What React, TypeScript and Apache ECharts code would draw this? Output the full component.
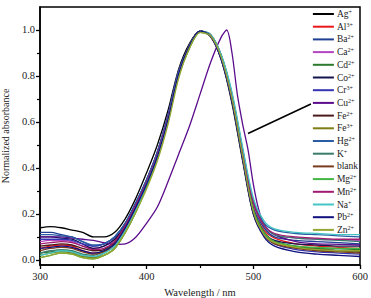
import React, { useEffect, useRef } from "react";
import * as echarts from "echarts";

const wavelengths = [300, 310, 320, 330, 340, 350, 360, 370, 380, 390, 400, 410, 420, 430, 440, 450, 460, 470, 480, 490, 500, 510, 520, 540, 560, 580, 600];
const cuWavelengths = [300, 310, 320, 330, 340, 350, 360, 370, 380, 390, 400, 410, 420, 430, 440, 450, 460, 470, 475, 480, 485, 490, 495, 500, 505, 510, 520, 540, 560, 580, 600];

const seriesNames = ["Ag+", "Al3+", "Ba2+", "Ca2+", "Cd2+", "Co2+", "Cr3+", "Cu2+", "Fe2+", "Fe3+", "Hg2+", "K+", "blank", "Mg2+", "Mn2+", "Na+", "Pb2+", "Zn2+"];

const seriesColors = ["#000000", "#e8171b", "#1f3f94", "#b445c0", "#2c7a2c", "#14144e", "#3434b4", "#5a0c8c", "#4c1a1a", "#7e7e14", "#2a5ca4", "#3a7c6c", "#7a3c1c", "#44b444", "#a01a72", "#44c4c4", "#10107e", "#96a632"];

const agValues = [0.14, 0.145, 0.14, 0.13, 0.12, 0.1, 0.1, 0.12, 0.18, 0.27, 0.38, 0.5, 0.65, 0.83, 0.94, 0.995, 0.97, 0.87, 0.68, 0.43, 0.2, 0.11, 0.08, 0.055, 0.045, 0.04, 0.035];
const alValues = [0.05, 0.06, 0.065, 0.06, 0.04, 0.03, 0.04, 0.08, 0.15, 0.24, 0.34, 0.46, 0.62, 0.82, 0.93, 0.995, 0.975, 0.88, 0.7, 0.45, 0.22, 0.13, 0.095, 0.07, 0.06, 0.055, 0.05];
const baValues = [0.12, 0.12, 0.11, 0.1, 0.08, 0.06, 0.07, 0.1, 0.16, 0.25, 0.35, 0.47, 0.63, 0.82, 0.93, 0.995, 0.975, 0.88, 0.71, 0.46, 0.23, 0.14, 0.1, 0.085, 0.08, 0.075, 0.07];
const caValues = [0.08, 0.085, 0.085, 0.08, 0.06, 0.05, 0.06, 0.09, 0.15, 0.24, 0.34, 0.46, 0.62, 0.81, 0.93, 0.995, 0.975, 0.88, 0.71, 0.46, 0.24, 0.15, 0.11, 0.095, 0.09, 0.088, 0.085];
const cdValues = [0.03, 0.035, 0.04, 0.035, 0.02, 0.01, 0.03, 0.06, 0.13, 0.22, 0.33, 0.45, 0.61, 0.81, 0.93, 0.995, 0.975, 0.88, 0.7, 0.45, 0.22, 0.12, 0.08, 0.06, 0.05, 0.048, 0.045];
const coValues = [0.1, 0.1, 0.095, 0.09, 0.07, 0.05, 0.06, 0.09, 0.15, 0.24, 0.34, 0.46, 0.62, 0.82, 0.93, 0.995, 0.975, 0.88, 0.7, 0.45, 0.22, 0.12, 0.085, 0.07, 0.065, 0.06, 0.06];
const crValues = [0.09, 0.09, 0.09, 0.085, 0.07, 0.06, 0.07, 0.1, 0.16, 0.25, 0.35, 0.47, 0.63, 0.82, 0.93, 0.995, 0.975, 0.87, 0.69, 0.44, 0.21, 0.11, 0.07, 0.045, 0.035, 0.03, 0.025];
const cuValues = [0.1, 0.1, 0.1, 0.095, 0.09, 0.085, 0.075, 0.068, 0.07, 0.1, 0.16, 0.23, 0.34, 0.46, 0.58, 0.72, 0.86, 0.97, 1.0, 0.9, 0.72, 0.59, 0.48, 0.33, 0.22, 0.155, 0.11, 0.08, 0.07, 0.068, 0.065];
const fe2Values = [0.06, 0.065, 0.07, 0.065, 0.05, 0.04, 0.045, 0.08, 0.15, 0.24, 0.34, 0.46, 0.62, 0.81, 0.93, 0.995, 0.975, 0.88, 0.7, 0.45, 0.22, 0.12, 0.08, 0.055, 0.045, 0.04, 0.035];
const fe3Values = [0.02, 0.03, 0.035, 0.03, 0.015, 0.01, 0.02, 0.05, 0.12, 0.21, 0.32, 0.44, 0.6, 0.8, 0.92, 0.99, 0.975, 0.88, 0.7, 0.45, 0.21, 0.11, 0.075, 0.055, 0.045, 0.04, 0.04];
const hgValues = [0.11, 0.11, 0.105, 0.1, 0.08, 0.065, 0.07, 0.1, 0.16, 0.25, 0.35, 0.47, 0.63, 0.82, 0.93, 0.995, 0.98, 0.89, 0.72, 0.48, 0.26, 0.16, 0.13, 0.115, 0.11, 0.105, 0.1];
const kValues = [0.03, 0.04, 0.045, 0.04, 0.025, 0.02, 0.04, 0.07, 0.14, 0.23, 0.33, 0.45, 0.61, 0.81, 0.93, 0.995, 0.98, 0.89, 0.72, 0.48, 0.25, 0.15, 0.11, 0.095, 0.09, 0.085, 0.08];
const blankValues = [0.04, 0.05, 0.055, 0.05, 0.035, 0.025, 0.035, 0.07, 0.14, 0.23, 0.33, 0.45, 0.61, 0.81, 0.93, 0.995, 0.975, 0.88, 0.7, 0.45, 0.21, 0.11, 0.07, 0.05, 0.04, 0.035, 0.03];
const mgValues = [0.01, 0.02, 0.03, 0.025, 0.01, 0.005, 0.02, 0.05, 0.12, 0.21, 0.32, 0.44, 0.6, 0.8, 0.92, 0.99, 0.975, 0.88, 0.7, 0.45, 0.22, 0.12, 0.08, 0.06, 0.055, 0.05, 0.05];
const mnValues = [0.07, 0.075, 0.08, 0.075, 0.06, 0.045, 0.05, 0.08, 0.15, 0.24, 0.34, 0.46, 0.62, 0.81, 0.93, 0.995, 0.975, 0.88, 0.71, 0.47, 0.25, 0.15, 0.115, 0.1, 0.095, 0.09, 0.09];
const naValues = [0.02, 0.03, 0.04, 0.035, 0.02, 0.015, 0.03, 0.06, 0.13, 0.22, 0.33, 0.45, 0.61, 0.81, 0.93, 0.995, 0.98, 0.89, 0.73, 0.49, 0.27, 0.17, 0.135, 0.12, 0.115, 0.11, 0.11];
const pbValues = [0.05, 0.055, 0.06, 0.055, 0.04, 0.03, 0.04, 0.07, 0.14, 0.23, 0.33, 0.45, 0.61, 0.81, 0.93, 0.995, 0.975, 0.87, 0.69, 0.44, 0.2, 0.1, 0.06, 0.035, 0.025, 0.02, 0.015];
const znValues = [0.01, 0.02, 0.03, 0.025, 0.01, 0.005, 0.02, 0.05, 0.12, 0.21, 0.31, 0.43, 0.59, 0.79, 0.92, 0.99, 0.975, 0.88, 0.7, 0.45, 0.21, 0.11, 0.075, 0.055, 0.045, 0.04, 0.04];

const seriesValues = [agValues, alValues, baValues, caValues, cdValues, coValues, crValues, cuValues, fe2Values, fe3Values, hgValues, kValues, blankValues, mgValues, mnValues, naValues, pbValues, znValues];

const yTickLabels = [0, 0.2, 0.4, 0.6, 0.8, 1.0];
const yMinorTicks = [0.1, 0.3, 0.5, 0.7, 0.9];
const arrowStart = [495, 0.55];
const arrowEnd = [554, 0.678];

const FONT = "'Liberation Serif', 'DejaVu Serif', serif";

function legendLabel(name: string): string {
  const m = name.match(/^([A-Z][a-z]?)(\d?[+-])$/);
  if (!m) return "{n|" + name + "}";
  return "{n|" + m[1] + "}{s|" + m[2] + "}";
}

export default function App() {
  const ref = useRef<HTMLDivElement>(null);
  useEffect(() => {
    if (!ref.current) return;
    const chart = echarts.init(ref.current, undefined, { renderer: "svg" });
    const series: any[] = seriesNames.map((name, i) => {
      const xs = name === "Cu2+" ? cuWavelengths : wavelengths;
      const s: any = {
        name,
        type: "line",
        data: xs.map((w, j) => [w, seriesValues[i][j]]),
        symbol: "none",
        showSymbol: false,
        smooth: 0.3,
        lineStyle: { width: 1.3, color: seriesColors[i] },
        itemStyle: { color: seriesColors[i] },
        z: 2,
      };
      if (name === "Cu2+") {
        s.markLine = {
          silent: true,
          symbol: ["none", "arrow"],
          symbolSize: [0, 9],
          label: { show: false },
          lineStyle: { color: "#000", width: 1.6, type: "solid" },
          data: [[{ coord: arrowStart }, { coord: arrowEnd }]],
        };
      }
      return s;
    });
    chart.setOption({
      animation: false,
      textStyle: { fontFamily: FONT },
      grid: { left: 40, right: 11, top: 7, bottom: 33, outerBoundsMode: "none", containLabel: false, show: true, borderColor: "#000", borderWidth: 1.5, backgroundColor: "transparent" },
      legend: {
        orient: "vertical",
        right: 13,
        top: 9,
        itemWidth: 21,
        itemHeight: 2,
        itemGap: 2.7,
        padding: 0,
        data: seriesNames.map((n, i) => ({ name: n, icon: "rect", itemStyle: { color: seriesColors[i] } })),
        formatter: (name: string) => legendLabel(name),
        textStyle: {
          fontFamily: FONT,
          color: "#222",
          padding: [0, 0, 0, -2],
          rich: {
            n: { fontSize: 9.5, fontFamily: FONT, color: "#222", lineHeight: 10 },
            s: { fontSize: 6, fontFamily: FONT, color: "#222", verticalAlign: "top", lineHeight: 10, padding: [0, 0, 4, 0] },
          },
        },
      },
      xAxis: {
        type: "value",
        min: 300,
        max: 600,
        interval: 100,
        name: "Wavelength / nm",
        nameLocation: "middle",
        nameGap: 19,
        nameTextStyle: { fontFamily: FONT, fontSize: 10.5, color: "#222" },
        axisLine: { onZero: false, lineStyle: { color: "#000", width: 1.5 } },
        axisTick: { inside: false, length: 4, lineStyle: { color: "#000", width: 1.3 } },
        minorTick: { show: true, splitNumber: 2, length: 3, lineStyle: { color: "#000", width: 1.2 } },
        axisLabel: { fontFamily: FONT, fontSize: 10.5, color: "#222", margin: 6 },
        splitLine: { show: false },
      },
      yAxis: [
        {
          type: "value",
          min: -0.022,
          max: 1.1,
          name: "Normalized absorbance",
          nameLocation: "middle",
          nameGap: 25,
          nameTextStyle: { fontFamily: FONT, fontSize: 10, color: "#222" },
          axisLine: { onZero: false, lineStyle: { color: "#000", width: 1.5 } },
          axisTick: { inside: false, length: 4, customValues: yTickLabels, lineStyle: { color: "#000", width: 1.3 } },
          axisLabel: {
            fontFamily: FONT,
            fontSize: 10.5,
            color: "#222",
            margin: 5,
            customValues: yTickLabels,
            formatter: (v: number) => v.toFixed(1),
          },
          splitLine: { show: false },
        },
        {
          type: "value",
          min: -0.022,
          max: 1.1,
          position: "left",
          axisLine: { show: false },
          axisTick: { show: true, inside: false, length: 3, customValues: yMinorTicks, lineStyle: { color: "#000", width: 1.2 } },
          axisLabel: { show: false, customValues: yMinorTicks },
          splitLine: { show: false },
        },
      ],
      series,
    });
    return () => chart.dispose();
  }, []);
  return <div ref={ref} style={{ width: 371, height: 298, position: "absolute", left: 0, top: 0, background: "#fff" }} />;
}
